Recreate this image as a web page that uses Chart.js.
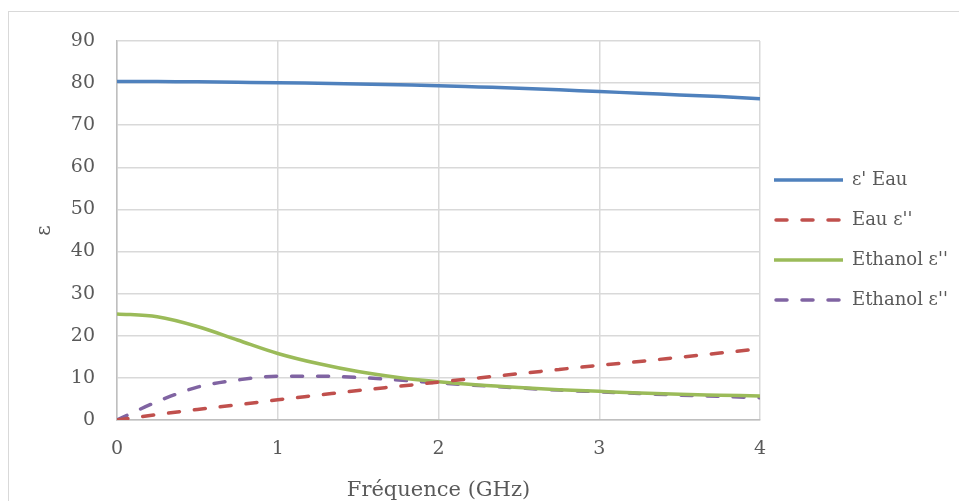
<!DOCTYPE html>
<html>
<head>
<meta charset="utf-8">
<script src="https://cdn.jsdelivr.net/npm/chart.js@4.4.0/dist/chart.umd.min.js"></script>
<style>
html,body{margin:0;padding:0;background:#fff;overflow:hidden}
#frame{position:absolute;left:8px;top:11px;width:1000px;height:600px;border:1px solid #d9d9d9}
#c{position:absolute;left:0;top:0}
</style>
</head>
<body>
<div id="frame"></div>
<canvas id="c" width="959" height="501"></canvas>
<script>
// frequency in GHz
const freq = [0,0.25,0.5,0.75,1,1.25,1.5,1.75,2,2.25,2.5,2.75,3,3.25,3.5,3.75,4];
const eauReel = [80.4,80.4,80.3,80.2,80.1,79.95,79.8,79.6,79.4,79.1,78.8,78.4,78.0,77.6,77.2,76.8,76.3];
const eauImag = [0,1.3,2.5,3.6,4.8,5.9,7.0,8.0,9.0,10.0,11.0,12.0,13.0,13.9,14.9,15.9,16.9];
const ethReel = [25.2,24.5,22.2,19.0,15.8,13.4,11.5,10.1,9.1,8.3,7.7,7.2,6.8,6.4,6.1,5.9,5.7];
const ethImag = [0,4.35,7.8,9.5,10.4,10.4,10.1,9.5,8.8,8.2,7.6,7.1,6.7,6.3,5.9,5.6,5.3];
const seriesNames = ["ε' Eau", "Eau ε''", "Ethanol ε''", "Ethanol ε''"];
const xTicks = [0,1,2,3,4];
const yTicks = [0,10,20,30,40,50,60,70,80,90];

const FONT = "'DejaVu Serif', serif";
const TXT = "#595959";
const GRID = "#d9d9d9";
const DASH = [11,15];

function pts(arr){ return freq.map((f,i) => ({x:f, y:arr[i]})); }

// small canvas used as the legend symbol (so dashes show in the legend)
function legendLine(color, dashed){
  const c = document.createElement("canvas");
  c.width = 69; c.height = 8;
  const g = c.getContext("2d");
  g.strokeStyle = color;
  g.lineWidth = 3.5;
  if(dashed){ g.setLineDash(DASH); g.lineCap = "round"; }
  g.beginPath();
  g.moveTo(dashed ? 2 : 0, 4);
  g.lineTo(dashed ? 67 : 69, 4);
  g.stroke();
  return c;
}

function ds(label, arr, color, dashed){
  return {
    label: label,
    data: pts(arr),
    borderColor: color,
    backgroundColor: color,
    borderWidth: 3.5,
    borderDash: dashed ? DASH : [],
    borderCapStyle: dashed ? "round" : "butt",
    pointRadius: 0,
    pointStyle: legendLine(color, dashed),
    cubicInterpolationMode: "monotone",
    fill: false
  };
}

const legendFix = {
  id: "legendFix",
  afterInit(chart){
    const lg = chart.legend;
    const fit = lg.fit;
    lg.fit = function(){ fit.call(this); this.width = 199; };
  },
  afterLayout(chart){
    const lg = chart.legend;
    lg.left -= 8; lg.right -= 8;
    lg.top -= 31; lg.bottom -= 31;
  }
};

const ctx = document.getElementById("c").getContext("2d");
new Chart(ctx, {
  type: "line",
  data: {
    datasets: [
      ds(seriesNames[0], eauReel, "#4f81bd", false),
      ds(seriesNames[1], eauImag, "#c0504d", true),
      ds(seriesNames[2], ethReel, "#9bbb59", false),
      ds(seriesNames[3], ethImag, "#8064a2", true)
    ]
  },
  options: {
    responsive: false,
    devicePixelRatio: 1,
    animation: false,
    layout: { padding: { left: 31, top: 41, right: 0, bottom: 0 } },
    plugins: {
      tooltip: { enabled: false },
      legend: {
        position: "right",
        align: "center",
        labels: {
          usePointStyle: true,
          pointStyleWidth: 69,
          padding: 22,
          color: TXT,
          font: { family: FONT, size: 18 }
        }
      }
    },
    scales: {
      x: {
        type: "linear",
        min: xTicks[0],
        max: xTicks[xTicks.length-1],
        afterFit(s){ s.height = 81; },
        ticks: { stepSize: 1, padding: 18, color: TXT, font: { family: FONT, size: 19 } },
        grid: { color: GRID, lineWidth: 1.5, drawTicks: false },
        border: { color: "#bfbfbf", width: 1.5 },
        title: { display: true, text: "Fréquence (GHz)", color: TXT, padding: { top: 1, bottom: 0 },
                 font: { family: FONT, size: 21, lineHeight: 1 } }
      },
      y: {
        min: yTicks[0],
        max: yTicks[yTicks.length-1],
        afterFit(s){ s.width = 86; },
        ticks: { stepSize: 10, padding: 22, color: TXT, font: { family: FONT, size: 19 } },
        grid: { color: GRID, lineWidth: 1.5, drawTicks: false },
        border: { color: "#bfbfbf", width: 1.5 },
        title: { display: true, text: "ε", color: TXT, padding: { top: 4, bottom: 0 },
                 font: { family: FONT, size: 20, lineHeight: 1 } }
      }
    }
  },
  plugins: [legendFix]
});
</script>
</body>
</html>
